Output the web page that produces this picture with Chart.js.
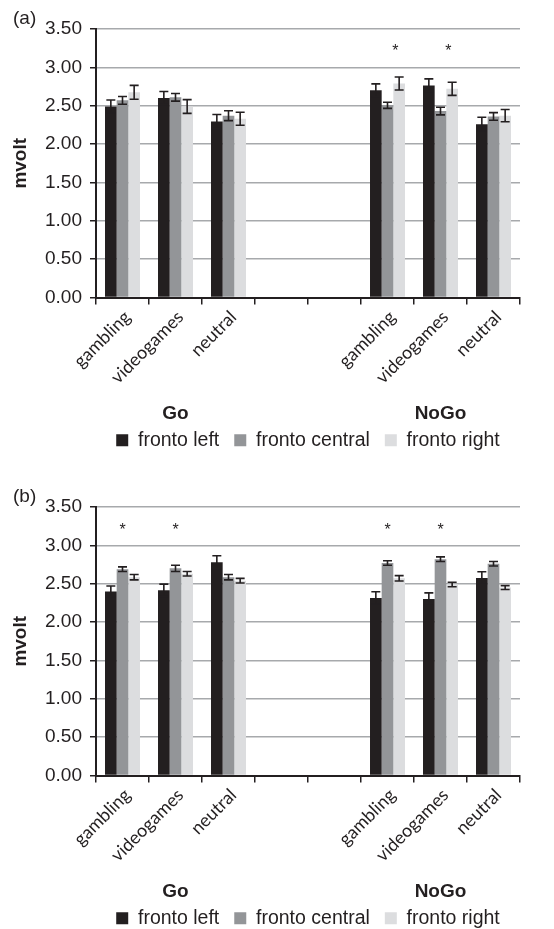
<!DOCTYPE html>
<html>
<head>
<meta charset="utf-8">
<script src="https://cdn.jsdelivr.net/npm/chart.js@4"></script>
<style>
  html, body { margin: 0; padding: 0; background: #fff; overflow: hidden; }
  .panel { position: absolute; left: 0; width: 554px; height: 478px; }
  .tag { position: absolute; left: 13px; top: 7px; font: 19px "Liberation Sans", Arial, sans-serif; color: #231f20; }
</style>
</head>
<body>
<div class="panel" style="top:0px"><canvas id="chartA" width="554" height="478"></canvas><div class="tag">(a)</div></div>
<div class="panel" style="top:478px"><canvas id="chartB" width="554" height="478"></canvas><div class="tag">(b)</div></div>
<script>
// Categories (two empty slots separate Go and NoGo)
const categories = ['gambling', 'videogames', 'neutral', '', '', 'gambling', 'videogames', 'neutral'];
const groupLabels = ['', 'Go', '', '', '', '', 'NoGo', ''];
const seriesNames = ['fronto left', 'fronto central', 'fronto right'];
const yTicks = [0, 0.5, 1, 1.5, 2, 2.5, 3, 3.5];

// Panel (a)
const leftA = [2.49, 2.60, 2.295, null, null, 2.70, 2.765, 2.26];
const centralA = [2.57, 2.61, 2.37, null, null, 2.505, 2.43, 2.36];
const rightA = [2.675, 2.49, 2.33, null, null, 2.79, 2.72, 2.37];
const leftErrA = [0.085, 0.085, 0.09, null, null, 0.085, 0.085, 0.09];
const centralErrA = [0.05, 0.05, 0.065, null, null, 0.04, 0.05, 0.05];
const rightErrA = [0.09, 0.09, 0.085, null, null, 0.085, 0.085, 0.08];
const starCatsA = [5, 6];
const starValA = 3.26;

// Panel (b)
const leftB = [2.40, 2.415, 2.78, null, null, 2.315, 2.30, 2.575];
const centralB = [2.69, 2.70, 2.585, null, null, 2.77, 2.82, 2.76];
const rightB = [2.585, 2.63, 2.54, null, null, 2.57, 2.49, 2.45];
const leftErrB = [0.07, 0.08, 0.085, null, null, 0.08, 0.08, 0.08];
const centralErrB = [0.03, 0.04, 0.035, null, null, 0.03, 0.03, 0.03];
const rightErrB = [0.035, 0.03, 0.03, null, null, 0.035, 0.03, 0.025];
const starCatsB = [0, 1, 5, 6];
const starValB = 3.25;

// Styles
const COLORS = ['#231f20', '#939598', '#dcdddf'];
const INK = '#231f20';
const GRID = '#a7a9ac';
const SANS = '"Liberation Sans", Arial, sans-serif';

// draws symmetric error bars on top of every bar
const errorBars = {
    id: 'errorBars',
    afterDatasetsDraw(chart, args, opts) {
        const ctx = chart.ctx;
        const y = chart.scales.y;
        ctx.save();
        ctx.strokeStyle = INK;
        ctx.lineWidth = 1.6;
        opts.errors.forEach((errs, i) => {
            const meta = chart.getDatasetMeta(i);
            const vals = chart.data.datasets[i].data;
            meta.data.forEach((bar, j) => {
                if (vals[j] == null || errs[j] == null) return;
                const top = y.getPixelForValue(vals[j] + errs[j]);
                const bot = y.getPixelForValue(vals[j] - errs[j]);
                const x = bar.x;
                ctx.beginPath();
                ctx.moveTo(x, top); ctx.lineTo(x, bot);
                ctx.moveTo(x - 4.5, top); ctx.lineTo(x + 4.5, top);
                ctx.moveTo(x - 4.5, bot); ctx.lineTo(x + 4.5, bot);
                ctx.stroke();
            });
        });
        ctx.restore();
    }
};

// significance asterisks
const stars = {
    id: 'stars',
    afterDatasetsDraw(chart, args, opts) {
        const ctx = chart.ctx;
        const xs = chart.scales.x;
        const step = xs.getPixelForValue(1) - xs.getPixelForValue(0);
        ctx.save();
        ctx.fillStyle = INK;
        ctx.font = '16px ' + SANS;
        ctx.textAlign = 'center';
        ctx.textBaseline = 'alphabetic';
        opts.cats.forEach(c => {
            const px = xs.getPixelForValue(c) + opts.shift * step;
            const py = chart.scales.y.getPixelForValue(opts.value) + 9;
            ctx.fillText('*', px, py);
        });
        ctx.restore();
    }
};

// Go / NoGo group captions under the category labels
const groups = {
    id: 'groups',
    afterDraw(chart, args, opts) {
        const ctx = chart.ctx;
        const xs = chart.scales.x;
        ctx.save();
        ctx.fillStyle = INK;
        ctx.font = 'bold 19px ' + SANS;
        ctx.textAlign = 'center';
        ctx.textBaseline = 'middle';
        opts.labels.forEach((t, i) => {
            if (!t) return;
            ctx.fillText(t, xs.getPixelForValue(i), chart.chartArea.bottom + opts.drop);
        });
        ctx.restore();
    }
};

function makeChart(id, series, errs, starCats, starVal, starShift) {
    const ctx = document.getElementById(id).getContext('2d');
    return new Chart(ctx, {
        type: 'bar',
        data: {
            labels: categories,
            datasets: series.map((d, i) => ({
                label: seriesNames[i],
                data: d,
                backgroundColor: COLORS[i],
                borderWidth: 0,
                categoryPercentage: 0.66,
                barPercentage: 1.0
            }))
        },
        options: {
            responsive: false,
            animation: false,
            layout: { padding: { top: 29, right: 34, left: 0, bottom: 18 } },
            plugins: {
                tooltip: { enabled: false },
                legend: {
                    position: 'bottom',
                    fullSize: false,
                    labels: {
                        boxWidth: 12,
                        boxHeight: 12,
                        padding: 15,
                        color: INK,
                        font: { family: SANS, size: 19.5 }
                    }
                },
                errorBars: { errors: errs },
                stars: { cats: starCats, value: starVal, shift: starShift },
                groups: { labels: groupLabels, drop: 116 }
            },
            scales: {
                x: {
                    type: 'category',
                    position: 'bottom',
                    grid: { display: true, drawOnChartArea: false, offset: true, color: INK, tickColor: INK, tickLength: 7, lineWidth: 1.5 },
                    border: { display: true, color: INK, width: 2 },
                    ticks: {
                        autoSkip: false, minRotation: 45, maxRotation: 45, padding: 2, labelOffset: 5,
                        color: INK, font: { family: 'Lato, "Open Sans", sans-serif', size: 18 }
                    },
                    afterFit(scale) { scale.height = 118; }
                },
                y: {
                    min: 0,
                    max: 3.5,
                    afterBuildTicks(scale) { scale.ticks = yTicks.map(v => ({ value: v })); },
                    grid: { color: GRID, lineWidth: 1.5, tickColor: INK, tickLength: 6 },
                    border: { display: true, color: INK, width: 2 },
                    ticks: {
                        padding: 8, color: INK,
                        font: { family: SANS, size: 19 },
                        callback: v => v.toFixed(2)
                    },
                    title: {
                        display: true, text: 'mvolt', color: INK,
                        font: { family: SANS, size: 19, weight: 'bold' },
                        padding: { top: 9, bottom: 0 }
                    },
                    afterFit(scale) { scale.width = 96; }
                }
            }
        },
        plugins: [errorBars, stars, groups]
    });
}

document.addEventListener('DOMContentLoaded', () => {
    makeChart('chartA', [leftA, centralA, rightA], [leftErrA, centralErrA, rightErrA], starCatsA, starValA, 0.15);
    makeChart('chartB', [leftB, centralB, rightB], [leftErrB, centralErrB, rightErrB], starCatsB, starValB, 0);
});
</script>
</body>
</html>
